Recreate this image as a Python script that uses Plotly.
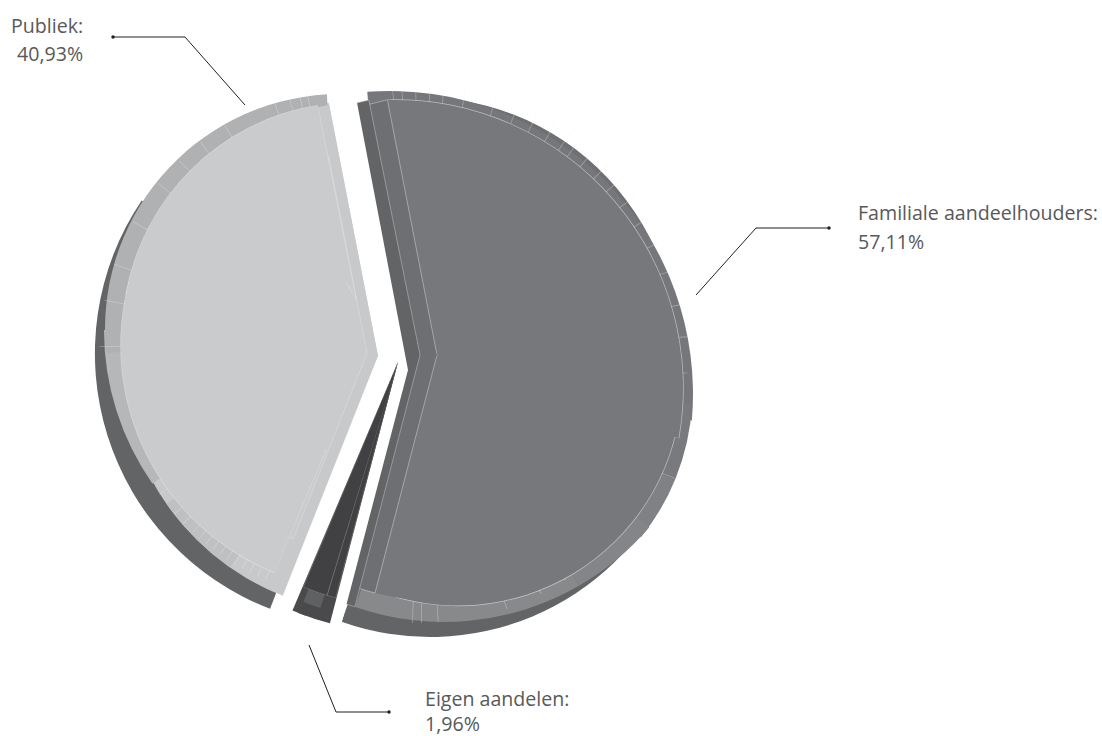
import plotly.graph_objects as go

W, H = 1102, 736

# Shareholder structure
categories = ["Familiale aandeelhouders", "Eigen aandelen", "Publiek"]
shares = [57.11, 1.96, 40.93]
share_labels = ["57,11%", "1,96%", "40,93%"]
START_ANGLE = -11

HAIR = "rgba(235,236,238,0.6)"
HAIR_SOFT = "rgba(240,241,243,0.35)"
CLEAR = "rgba(0,0,0,0)"
SIDE = "#636466"
FAMILY_FACE = "#77787b"
FAMILY_BAND = "#6e6f72"
PUBLIC_FACE = "#cacbcd"
PUBLIC_BAND = "#c8c9cb"

# Angles of the small facets on the bevel rims
family_facets = [-6, -4, -1, 2, 5, 9.6, 16.3, 21.3, 25.8, 30.2, 34, 36.5, 40.3, 44.5, 48.7, 53.5,
                 59, 64.7, 71.4, 79, 86, 93.8, 100, 106.6, 112.6, 117.8, 122.7, 127.5, 132, 137,
                 142, 147, 153, 161, 176, 179.6, 181.5, 183.7]
public_facets_low = [203, 205, 207, 209, 211, 213, 215, 217, 219, 221, 223, 226, 229, 234.6, 249]
public_facets_high = [270.7, 280.8, 288.9, 299, 309, 315.7, 321.8, 328.2, 340.1, 343.5, 345.8,
                      347.5, 349.2]
own_shares_facets = [196.8, 200.4]

fig = go.Figure()


def domain(cx, cy, r):
    return dict(x=[(cx - r) / W, (cx + r) / W], y=[1 - (cy + r) / H, 1 - (cy - r) / H])


def add_pie(cx, cy, r, values, rotation, colors, line, widths):
    fig.add_trace(go.Pie(
        values=values, sort=False, direction="clockwise", rotation=rotation,
        domain=domain(cx, cy, r), textinfo="none", hoverinfo="skip", showlegend=False,
        marker=dict(colors=colors, line=dict(color=line, width=widths)),
    ))


def slice_layer(index, cx, cy, r, color, line=CLEAR, line_width=0.0):
    """One shareholder slice, placed on its own centre, from the share values."""
    colors = [CLEAR] * len(shares)
    colors[index] = color
    widths = [0.0] * len(shares)
    widths[index] = line_width
    add_pie(cx, cy, r, shares, START_ANGLE, colors, line, widths)


def sector(cx, cy, r, start, end, color, line=CLEAR, line_width=0.0):
    """Shading sector of a bevel, angles in degrees clockwise from the top."""
    add_pie(cx, cy, r, [end - start, 360 - (end - start)], start,
            [color, CLEAR], line, [line_width, 0.0])


def facets(cx, cy, r, angles, color):
    """Thin radial ticks at the given angles, built as very narrow sectors."""
    tick = 0.18
    values, colors = [], []
    for a, b in zip(angles, angles[1:]):
        values += [tick, b - a - tick]
        colors += [color, CLEAR]
    values.append(360 - sum(values))
    colors.append(CLEAR)
    add_pie(cx, cy, r, values, angles[0], colors, CLEAR, [0.0] * len(values))


# Familiale aandeelhouders: side wall and rim
sector(430, 372, 265, 115, 199.5, SIDE)
slice_layer(0, 420, 355, 258, FAMILY_BAND)
sector(390, 394, 303, -4.3, 95, "#76777a")
sector(461.6, 392, 230.8, 93, 112, "#797a7d")
sector(461.6, 392, 230.8, 112, 129, "#808184")
sector(444, 352, 270, 130.5, 150, "#848588")
sector(444, 352, 270, 150, 199.2, "#88898b")
facets(420, 355, 268, family_facets, HAIR_SOFT)

# Familiale aandeelhouders: top face
sector(395, 388, 288.7, -1.4, 100, HAIR)
sector(458, 382, 224.2, 96, 201.5, HAIR)
slice_layer(0, 437, 355, 200, FAMILY_FACE)
sector(395, 388, 288, -1.4, 100, FAMILY_FACE)
sector(458, 382, 223.5, 96, 201.5, FAMILY_FACE)
sector(437, 355, 246, 185, 194.6, FAMILY_FACE)

# Familiale aandeelhouders: straight bevel, side wall, then the gap left of the slice
sector(437, 355, 260, 300, 349, FAMILY_BAND, HAIR, 0.7)
sector(437, 355, 246, 194.6, 300, FAMILY_BAND, HAIR, 0.7)
sector(437, 355, 22, 210, 340, FAMILY_BAND)
sector(420, 355, 260, 194.5, 348.65, SIDE, HAIR, 0.6)
sector(408, 370, 285, 194.7, 349.2, "white")

# Publiek: side wall and rim
sector(368.6, 353.5, 273.7, 201.1, 304, SIDE)
slice_layer(2, 378, 356, 258, PUBLIC_BAND, HAIR_SOFT, 0.6)
sector(378, 356, 258, 215, 235, "#bfc0c2")
sector(372, 330, 268, 235, 270, "#b6b7b9")
sector(340, 329, 235, 264, 356.8, "#b0b1b3")
facets(363.5, 350, 250, public_facets_low, HAIR_SOFT)
facets(363.5, 350, 264, public_facets_high, HAIR_SOFT)
sector(378, 356, 256, 344, 349, PUBLIC_BAND)
sector(378, 356, 110, 205, 345, PUBLIC_BAND)

# Publiek: top face, outlined along its arcs and straight edges
sector(366, 345, 245.7, 201.8, 285, HAIR)
sector(355, 335, 233.1, 280, 350.8, HAIR)
slice_layer(2, 367, 353, 200, PUBLIC_FACE, HAIR, 0.6)
sector(356.5, 300, 196.8, 330, 348.7, PUBLIC_FACE, HAIR, 0.6)
sector(326, 450, 131, 202.9, 240, PUBLIC_FACE, HAIR, 0.6)
sector(366, 345, 245, 201.8, 285, PUBLIC_FACE)
sector(355, 335, 232.4, 280, 350.8, PUBLIC_FACE)
sector(366, 345, 225, 250, 320, PUBLIC_FACE)

# Eigen aandelen: narrow slice with a small lighter end facet
slice_layer(1, 398, 362, 270, "#4a4a4c")
sector(398, 362, 270, 200, 203, "#4a4a4c")
sector(398, 362, 258, 194.8, 198, "#4a4a4c")
sector(398, 362, 258, 197.5, 201.5, "#5f6062")
sector(398, 362, 244, 194.8, 202.8, "#414042", HAIR_SOFT, 0.5)
facets(398, 362, 244, own_shares_facets, HAIR_SOFT)

# Leader lines, one per label, ending in a small dot
leaders = [
    ([696, 756, 829], [295, 228, 228], 829, 228),
    ([309, 336, 389], [645, 712, 712], 389, 712),
    ([245, 185, 113], [105, 37, 37], 113, 37),
]
for xs, ys, dx, dy in leaders:
    fig.add_trace(go.Scatter(x=xs, y=ys, mode="lines", line=dict(color="#231f20", width=1),
                             hoverinfo="skip", showlegend=False))
    fig.add_trace(go.Scatter(x=[dx], y=[dy], mode="markers",
                             marker=dict(color="#231f20", size=3.5),
                             hoverinfo="skip", showlegend=False))

# Labels, two lines each
label_font = dict(family="Open Sans", size=19.6, color="#58595b")
placements = [
    (857, 212, 241, "left"),
    (424, 698, 723, "left"),
    (84, 25, 53, "right"),
]
for name, value, (x, y1, y2, anchor) in zip(categories, share_labels, placements):
    fig.add_annotation(x=x, y=y1, text=name + ":", showarrow=False, xanchor=anchor,
                       yanchor="middle", font=label_font, xref="x", yref="y", borderpad=0)
    fig.add_annotation(x=x, y=y2, text=value, showarrow=False, xanchor=anchor,
                       yanchor="middle", font=label_font, xref="x", yref="y", borderpad=0)

fig.update_layout(
    width=W, height=H, margin=dict(l=0, r=0, t=0, b=0),
    paper_bgcolor="white", plot_bgcolor="rgba(0,0,0,0)", showlegend=False,
    xaxis=dict(visible=False, range=[0, W], domain=[0, 1], fixedrange=True),
    yaxis=dict(visible=False, range=[H, 0], domain=[0, 1], fixedrange=True),
)

fig.write_html("out.html", config={"displayModeBar": False})
